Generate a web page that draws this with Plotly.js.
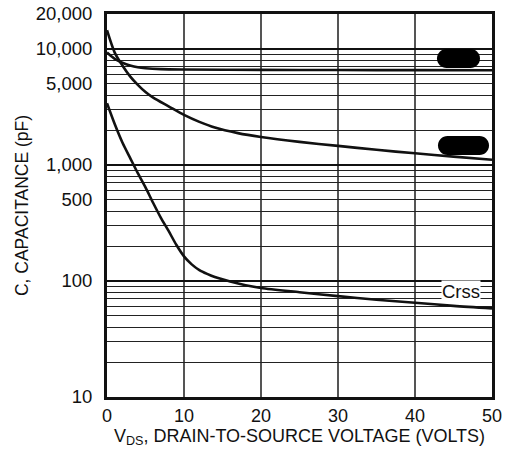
<!DOCTYPE html>
<html>
<head>
<meta charset="utf-8">
<script src="https://cdn.plot.ly/plotly-3.0.1.min.js"></script>
<style>html,body{margin:0;padding:0;background:#fff;}#chart{width:506px;height:453px;}</style>
</head>
<body>
<div id="chart"></div>
<script>
// Data
var cissX = [0, 1, 2, 3, 4, 5, 7, 10, 20, 30, 40, 50];
var cissY = [9300, 8200, 7600, 7200, 6950, 6820, 6700, 6650, 6600, 6580, 6560, 6550];

var cossX = [0, 1, 2, 3, 4, 5, 6, 8, 10, 12, 14, 17, 20, 25, 30, 35, 40, 45, 50];
var cossY = [14500, 9300, 7200, 5800, 4900, 4250, 3800, 3200, 2700, 2350, 2100, 1880, 1740, 1580, 1460, 1350, 1260, 1180, 1110];

var crssX = [0, 1, 2, 3, 4, 5, 6, 7, 8, 9, 10, 11, 12, 13, 14, 16, 18, 20, 25, 30, 35, 40, 45, 50];
var crssY = [3400, 2250, 1560, 1150, 850, 640, 470, 350, 270, 205, 163, 139, 124, 115, 108, 99, 92, 87, 80, 74, 69, 65, 61, 58];

var xTicks = [0, 10, 20, 30, 40, 50];
var yLabelVals = [10, 100, 500, 1000, 5000, 10000, 20000];
var yLabelText = ['10', '100', '500', '1,000', '5,000', '10,000', '20,000'];
var decadeVals = [100, 1000, 10000];

// grid values for the log axis (1..9 per decade)
var gridVals = [], gridText = [];
[10, 100, 1000].forEach(function (d) {
  for (var m = 1; m < 10; m++) {
    var v = m * d;
    gridVals.push(v);
    var i = yLabelVals.indexOf(v);
    gridText.push(i >= 0 ? yLabelText[i] : ' ');
  }
});
[10000, 20000].forEach(function (v) {
  gridVals.push(v);
  gridText.push(yLabelText[yLabelVals.indexOf(v)]);
});

var FONT = 'Liberation Sans, Arial, Helvetica, sans-serif';
var lineStyle = {color: '#111', width: 2.6, shape: 'spline', smoothing: 0.8};

var traces = [
  {x: cissX, y: cissY, mode: 'lines', line: lineStyle, hoverinfo: 'skip', name: 'Ciss'},
  {x: cossX, y: cossY, mode: 'lines', line: lineStyle, hoverinfo: 'skip', name: 'Coss'},
  {x: crssX, y: crssY, mode: 'lines', line: lineStyle, hoverinfo: 'skip', name: 'Crss'},
  {x: [0, 50], y: [10, 10], yaxis: 'y2', mode: 'lines', line: {width: 0}, hoverinfo: 'skip', showlegend: false}
];

// plot area in pixels
var L = 107, R = 492, T = 14, B = 397;
function px(x) { return ((x - L) / (R - L)).toFixed(4); }
function py(y) { return ((B - y) / (B - T)).toFixed(4); }
function pill(x0, x1, y0, y1) {
  var r = (y1 - y0) / 2, k = 0.5523 * r, cy = (y0 + y1) / 2;
  function p(x, y) { return px(x) + ',' + py(y); }
  return 'M' + p(x0 + r, y0) + ' L' + p(x1 - r, y0) +
    ' C' + p(x1 - r + k, y0) + ' ' + p(x1, cy - k) + ' ' + p(x1, cy) +
    ' C' + p(x1, cy + k) + ' ' + p(x1 - r + k, y1) + ' ' + p(x1 - r, y1) +
    ' L' + p(x0 + r, y1) +
    ' C' + p(x0 + r - k, y1) + ' ' + p(x0, cy + k) + ' ' + p(x0, cy) +
    ' C' + p(x0, cy - k) + ' ' + p(x0 + r - k, y0) + ' ' + p(x0 + r, y0) + ' Z';
}

var layout = {
  width: 506, height: 453,
  margin: {l: 107, r: 14, t: 14, b: 56, pad: 0},
  paper_bgcolor: '#fff', plot_bgcolor: '#fff',
  showlegend: false,
  font: {family: FONT, color: '#111', size: 18},
  xaxis: {
    range: [0, 50], tickmode: 'array', tickvals: xTicks,
    showgrid: true, gridcolor: '#555', gridwidth: 1.2, zeroline: false,
    showline: true, mirror: true, linecolor: '#111', linewidth: 3,
    ticks: '', tickfont: {size: 18, family: FONT, color: '#111'},
    title: {text: 'V<sub>DS</sub>, DRAIN-TO-SOURCE VOLTAGE (VOLTS)', font: {size: 18, family: FONT, color: '#111'}, standoff: 0}
  },
  yaxis: {
    type: 'log', range: [1, Math.log10(20000)],
    tickmode: 'array', tickvals: gridVals, ticktext: gridText,
    showgrid: true, gridcolor: '#222', gridwidth: 1, zeroline: false,
    showline: true, mirror: true, linecolor: '#111', linewidth: 3,
    ticks: '', ticklabelstandoff: 8, tickfont: {size: 18.5, family: FONT, color: '#111'},
    title: {text: 'C, CAPACITANCE (pF)', font: {size: 17.5, family: FONT, color: '#111'}, standoff: 3}
  },
  yaxis2: {
    type: 'log', range: [1, Math.log10(20000)], overlaying: 'y', side: 'left',
    tickmode: 'array', tickvals: decadeVals, showticklabels: false,
    showgrid: true, gridcolor: '#111', gridwidth: 2.4, zeroline: false, showline: false, ticks: ''
  },
  shapes: [
    {type: 'path', xref: 'paper', yref: 'paper', path: pill(437, 480, 49, 68), fillcolor: '#000', line: {width: 0}},
    {type: 'path', xref: 'paper', yref: 'paper', path: pill(438, 489, 136, 155), fillcolor: '#000', line: {width: 0}}
  ],
  annotations: [
    {x: 46, y: Math.log10(81), xref: 'x', yref: 'y', text: 'Crss', showarrow: false,
     font: {size: 18.5, family: FONT, color: '#111'}, bgcolor: '#fff', borderpad: 0}
  ]
};

Plotly.newPlot('chart', traces, layout, {staticPlot: true, displayModeBar: false});
</script>
</body>
</html>
